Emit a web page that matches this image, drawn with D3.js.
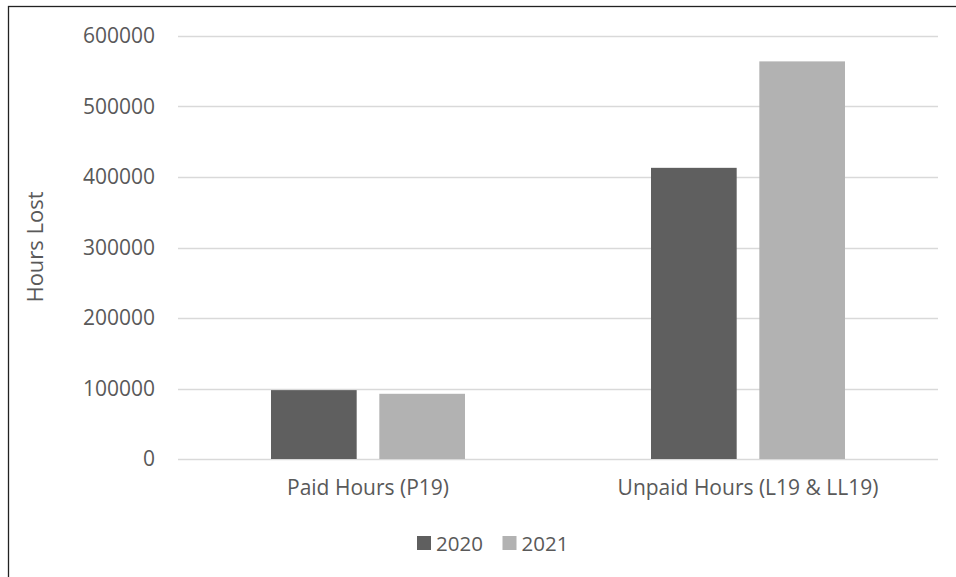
<!DOCTYPE html>
<html>
<head>
<meta charset="utf-8">
<script src="https://cdn.jsdelivr.net/npm/d3@7"></script>
<style>
  html, body { margin: 0; padding: 0; background: #fff; }
  svg { display: block; }
  text { font-family: "Open Sans", "Noto Sans", sans-serif; fill: #595959; }
</style>
</head>
<body>
<svg id="chart" width="956" height="577"></svg>
<script>
const categories = ["Paid Hours (P19)", "Unpaid Hours (L19 & LL19)"];
const seriesNames = ["2020", "2021"];
const values2020 = [97700, 413000];
const values2021 = [92500, 564000];
const yTicks = [0, 100000, 200000, 300000, 400000, 500000, 600000];
const colors = ["#5f5f5f", "#b2b2b2"];

const svg = d3.select("#chart");
const W = 956, H = 577;

// chart border (cropped: left and top visible)
svg.append("rect").attr("x", 8.5).attr("y", 6.5).attr("width", W + 20).attr("height", H + 20)
  .attr("fill", "#fff").attr("stroke", "#222").attr("stroke-width", 1.3);

const plotL = 178, plotR = 938, plotT = 36, plotB = 459;

const y = d3.scaleLinear().domain([0, 600000]).range([plotB, plotT]);
const x0 = d3.scaleBand().domain(categories).range([plotL, plotR]).padding(0);
const groupW = 194;
const x1 = d3.scaleBand().domain(seriesNames)
  .range([(x0.bandwidth() - groupW) / 2, (x0.bandwidth() + groupW) / 2])
  .paddingInner(0.209).paddingOuter(0);

// gridlines
svg.append("g").selectAll("line").data(yTicks).join("line")
  .attr("x1", plotL).attr("x2", plotR)
  .attr("y1", d => Math.round(y(d)) + 0.5).attr("y2", d => Math.round(y(d)) + 0.5)
  .attr("stroke", "#d9d9d9").attr("stroke-width", 1.3);

// y axis labels
const yAxis = d3.axisLeft(y).tickValues(yTicks).tickFormat(d3.format("d")).tickSize(0).tickPadding(23);
const gy = svg.append("g").attr("transform", `translate(${plotL},0)`).call(yAxis);
gy.select(".domain").remove();
gy.selectAll("text").attr("font-size", 21).attr("fill", "#595959")
  .style("font-family", '"Open Sans", sans-serif');

// bars
const data = categories.map((c, i) => ({ cat: c, vals: [values2020[i], values2021[i]] }));
const groups = svg.append("g").selectAll("g").data(data).join("g")
  .attr("transform", d => `translate(${x0(d.cat)},0)`);
groups.selectAll("rect").data(d => d.vals.map((v, j) => ({ s: seriesNames[j], v, j })))
  .join("rect")
  .attr("x", d => x1(d.s)).attr("width", x1.bandwidth())
  .attr("y", d => y(d.v)).attr("height", d => y(0) - y(d.v))
  .attr("fill", d => colors[d.j]);

// x axis labels
const xAxis = d3.axisBottom(x0).tickSize(0).tickPadding(21);
const gx = svg.append("g").attr("transform", `translate(0,${plotB})`).call(xAxis);
gx.select(".domain").remove();
gx.selectAll("text").attr("font-size", 21).attr("fill", "#595959")
  .style("font-family", '"Open Sans", sans-serif');

// y axis title
svg.append("text").attr("transform", "translate(43,247) rotate(-90)")
  .attr("text-anchor", "middle").attr("font-size", 22).text("Hours Lost");

// legend
const legendX = [417, 502.5];
const leg = svg.append("g").selectAll("g").data(seriesNames).join("g")
  .attr("transform", (d, i) => `translate(${legendX[i]},536)`);
leg.append("rect").attr("width", 14).attr("height", 14).attr("fill", (d, i) => colors[i]);
leg.append("text").attr("x", 19).attr("y", 14.5).attr("font-size", 20.5).text(d => d);
</script>
</body>
</html>
